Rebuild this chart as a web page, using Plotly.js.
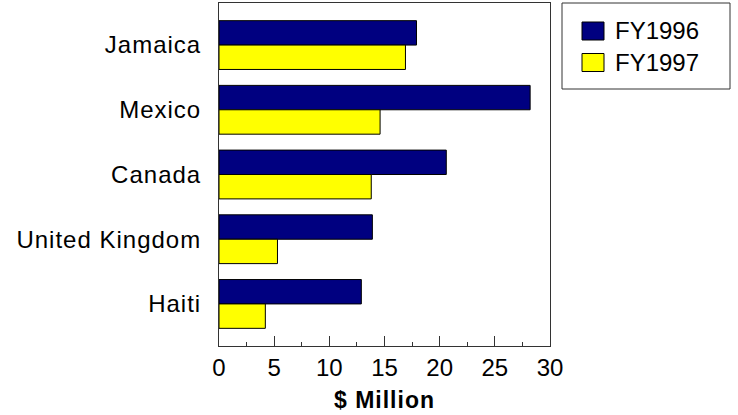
<!DOCTYPE html>
<html>
<head>
<meta charset="utf-8">
<script src="https://cdn.plot.ly/plotly-3.0.1.min.js"></script>
<style>
  html, body { margin: 0; padding: 0; background: #fff; }
  #chart { width: 738px; height: 415px; }
  .ytick text { letter-spacing: 1px; }
  .g-xtitle text { letter-spacing: 1px; }
</style>
</head>
<body>
<div id="chart"></div>
<script>
// Spending by country, $ million
const countries = ["Jamaica", "Mexico", "Canada", "United Kingdom", "Haiti"];
const fy1996 = [17.9, 28.2, 20.6, 13.9, 12.9];
const fy1997 = [16.9, 14.6, 13.8, 5.3, 4.2];
const seriesNames = ["FY1996", "FY1997"];
const seriesColors = ["#000080", "#ffff00"];
const xTicks = [0, 5, 10, 15, 20, 25, 30];

const font = "Liberation Sans, Arial, sans-serif";

// plot-area geometry in page pixels, used to place the boxed legend
const L = 219, R = 550, T = 3, B = 346;
const px = x => (x - L) / (R - L);
const py = y => (B - y) / (B - T);

const traces = [fy1996, fy1997].map((vals, i) => ({
  type: "bar",
  orientation: "h",
  name: seriesNames[i],
  x: vals,
  y: countries,
  marker: { color: seriesColors[i], line: { color: "#000", width: 1 } },
  hoverinfo: "x+y+name"
}));

// legend: framed box with two square swatches
const legendRows = [31, 62.5];
const shapes = [{
  type: "rect", xref: "paper", yref: "paper",
  x0: px(562), x1: px(730), y0: py(89), y1: py(3),
  line: { color: "#333", width: 1 }, fillcolor: "#fff"
}];
const annotations = [];
legendRows.forEach((cy, i) => {
  shapes.push({
    type: "rect", xref: "paper", yref: "paper",
    x0: px(582), x1: px(604), y0: py(cy + 9), y1: py(cy - 9),
    line: { color: "#000", width: 1 }, fillcolor: seriesColors[i]
  });
  annotations.push({
    xref: "paper", yref: "paper", x: px(613), y: py(cy),
    xanchor: "left", yanchor: "middle", showarrow: false,
    text: seriesNames[i], font: { family: font, size: 24, color: "#000" }
  });
});

const layout = {
  width: 738, height: 415,
  margin: { l: L, r: 738 - R, t: T, b: 415 - B },
  paper_bgcolor: "#fff", plot_bgcolor: "#fff",
  showlegend: false,
  barmode: "group",
  bargap: 0.246, bargroupgap: 0,
  font: { family: font, size: 24, color: "#000" },
  xaxis: {
    range: [0, 30], tickvals: xTicks, ticktext: xTicks.map(String),
    ticks: "inside", ticklen: 10, tickcolor: "#333", tickwidth: 1,
    minor: { dtick: 2.5, tick0: 0, ticks: "inside", ticklen: 4, tickcolor: "#333" },
    showgrid: false, zeroline: false,
    showline: true, mirror: true, linecolor: "#333", linewidth: 1,
    tickfont: { family: font, size: 24 },
    title: { text: "<b>$ Million</b>", font: { family: font, size: 23 }, standoff: 12 },
    fixedrange: true
  },
  yaxis: {
    type: "category", categoryorder: "array", categoryarray: countries,
    range: [4.65, -0.65],
    ticks: "", showgrid: false, zeroline: false,
    showline: true, mirror: true, linecolor: "#333", linewidth: 1,
    tickfont: { family: font, size: 24 },
    ticklabelstandoff: 12,
    fixedrange: true
  },
  shapes: shapes,
  annotations: annotations
};

Plotly.newPlot("chart", traces, layout, { displayModeBar: false, staticPlot: true });
</script>
</body>
</html>
